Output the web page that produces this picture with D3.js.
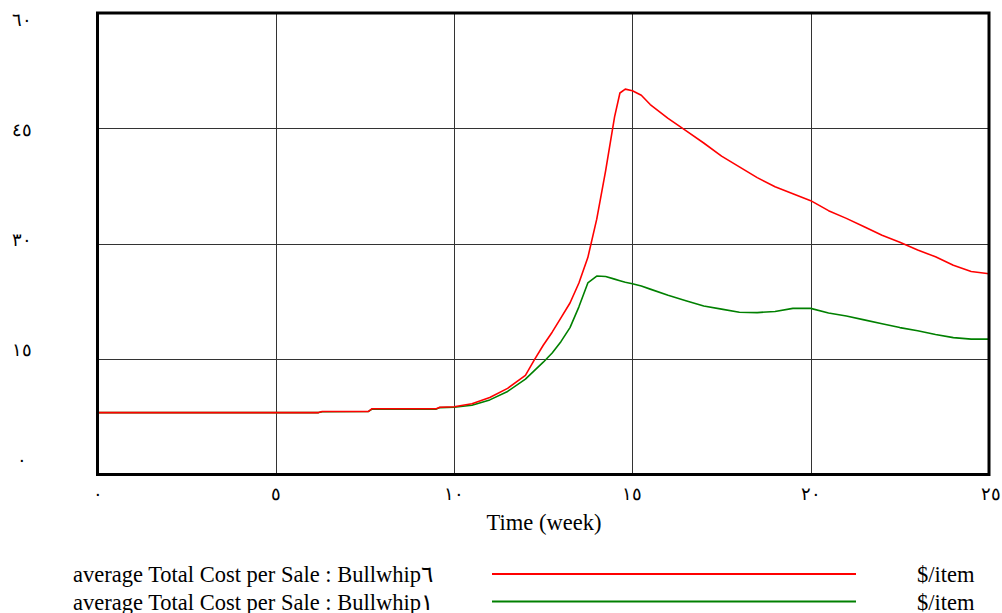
<html lang='en'>

<head>
    <meta charset="utf-8">
    <title>
        average Total Cost per Sale
    </title>
    <script src="https://d3js.org/d3.v7.min.js" charset="utf-8"></script>
    <style>
        body {
            margin: 0;
            background: #fff;
        }

        text {
            font-family: "Liberation Serif", "DejaVu Serif", serif;
            fill: #000;
        }
    </style>
</head>

<body>
    <script>
        // data (weeks shared by both runs)
        var weeks = [0, 6.2, 6.3, 7.6, 7.7, 9.5, 9.6, 10, 10.5, 11, 11.5, 12, 12.25, 12.5, 12.75, 13, 13.25, 13.5,
            13.75, 14, 14.25, 14.5, 14.65, 14.8, 15, 15.25, 15.5, 16, 16.5, 17, 17.5, 18, 18.5, 19, 19.5, 20,
            20.5, 21, 21.5, 22, 22.5, 23, 23.5, 24, 24.5, 25];
        var bullwhip6 = [8.05, 8.05, 8.2, 8.2, 8.55, 8.55, 8.75, 8.8, 9.2, 10.0, 11.2, 12.9, 14.9, 16.8, 18.5, 20.4,
            22.3, 24.9, 28.2, 33.2, 39.5, 46.5, 49.6, 50.1, 49.9, 49.3, 48.1, 46.3, 44.7, 43.1, 41.4, 40.0,
            38.6, 37.4, 36.5, 35.6, 34.3, 33.3, 32.2, 31.1, 30.2, 29.2, 28.3, 27.2, 26.4, 26.1];
        var bullwhip1 = [8.05, 8.05, 8.15, 8.2, 8.5, 8.5, 8.7, 8.75, 9.0, 9.7, 10.8, 12.4, 13.5, 14.6, 15.8, 17.3,
            19.1, 21.8, 24.9, 25.8, 25.75, 25.4, 25.2, 25.0, 24.8, 24.5, 24.1, 23.3, 22.6, 21.9, 21.5, 21.1,
            21.05, 21.2, 21.6, 21.6, 21.0, 20.6, 20.1, 19.6, 19.1, 18.7, 18.2, 17.8, 17.6, 17.6];

        var yTicks = [0, 15, 30, 45, 60];
        var xTicks = [0, 5, 10, 15, 20, 25];
        var seriesNames = ['average Total Cost per Sale : Bullwhip6', 'average Total Cost per Sale : Bullwhip1'];
        var seriesUnits = ['$/item', '$/item'];
        var seriesColors = ['#ff0000', '#008000'];
        var xTitle = 'Time (week)';

        // arabic-indic digits for tick labels
        function arDigits(s) {
            return String(s).replace(/[0-9]/g, function (d) { return '٠١٢٣٤٥٦٧٨٩'[+d]; });
        }

        // canvas
        var width = 1002, height = 613;

        var svg = d3.select('body')
            .append('svg')
            .attr('width', width)
            .attr('height', height);

        // scales
        var x = d3.scaleLinear().domain([0, 25]).range([97.5, 989]);
        var y = d3.scaleLinear().domain([0, 60]).range([474.5, 13]);
        // vensim spreads its value labels a bit inside the frame
        var yLabel = y.copy().range([460, 20]);

        // grid
        var g = svg.append('g');
        g.selectAll('line.hgrid').data(yTicks.slice(1, -1)).enter()
            .append('line').attr('class', 'hgrid')
            .attr('x1', x(0)).attr('x2', x(25))
            .attr('y1', function (d) { return Math.round(y(d)) + 0.5; })
            .attr('y2', function (d) { return Math.round(y(d)) + 0.5; })
            .attr('stroke', '#333').attr('stroke-width', 1);
        g.selectAll('line.vgrid').data(xTicks.slice(1, -1)).enter()
            .append('line').attr('class', 'vgrid')
            .attr('y1', y(0)).attr('y2', y(60))
            .attr('x1', function (d) { return Math.round(x(d)) + 0.5; })
            .attr('x2', function (d) { return Math.round(x(d)) + 0.5; })
            .attr('stroke', '#333').attr('stroke-width', 1);

        // series lines
        var series = [bullwhip1, bullwhip6];
        var colors = [seriesColors[1], seriesColors[0]];
        series.forEach(function (vals, i) {
            var line = d3.line()
                .x(function (d, j) { return x(weeks[j]); })
                .y(function (d) { return y(d); });
            g.append('path').datum(vals)
                .attr('fill', 'none')
                .attr('stroke', colors[i])
                .attr('stroke-width', 1.6)
                .attr('stroke-linejoin', 'round')
                .attr('d', line);
        });

        // frame
        g.append('rect')
            .attr('x', x(0)).attr('y', y(60))
            .attr('width', x(25) - x(0)).attr('height', y(0) - y(60))
            .attr('fill', 'none').attr('stroke', '#000').attr('stroke-width', 3);

        // y labels
        svg.selectAll('text.ylab').data(yTicks).enter()
            .append('text').attr('class', 'ylab')
            .attr('x', 22).attr('y', function (d) { return yLabel(d) + 6; })
            .attr('text-anchor', 'middle')
            .style('font-size', '18px')
            .text(function (d) { return arDigits(d); });

        // x labels (last one pulled in so it stays on the page)
        svg.selectAll('text.xlab').data(xTicks).enter()
            .append('text').attr('class', 'xlab')
            .attr('x', function (d) { return d === 25 ? 1001 : x(d); })
            .attr('y', 500)
            .attr('text-anchor', function (d) { return d === 25 ? 'end' : 'middle'; })
            .style('font-size', '18px')
            .text(function (d) { return arDigits(d); });

        svg.append('text')
            .attr('x', 544).attr('y', 530)
            .attr('text-anchor', 'middle')
            .style('font-size', '22.5px')
            .text(xTitle);

        // legend
        var legend = svg.selectAll('g.legend').data(seriesNames).enter()
            .append('g').attr('class', 'legend')
            .attr('transform', function (d, i) { return 'translate(0,' + (574 + i * 27.5) + ')'; });
        legend.append('text')
            .attr('x', 73).attr('y', 8)
            .style('font-size', '22.5px')
            .text(function (d) { return d.replace(/[0-9]+$/, arDigits); });
        legend.append('line')
            .attr('x1', 492).attr('x2', 856)
            .attr('stroke', function (d, i) { return seriesColors[i]; })
            .attr('stroke-width', 2);
        legend.append('text')
            .attr('x', 917).attr('y', 8)
            .style('font-size', '22.5px')
            .text(function (d, i) { return seriesUnits[i]; });
    </script>
</body>

</html>
